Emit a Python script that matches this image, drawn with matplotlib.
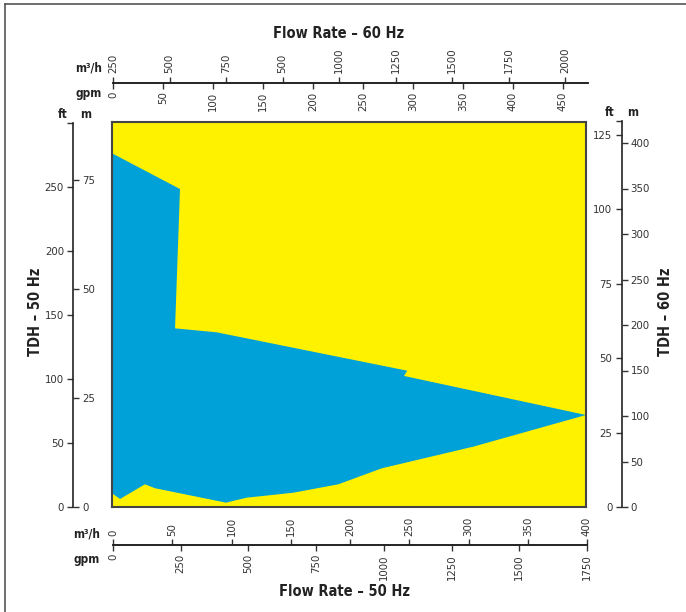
import matplotlib
matplotlib.use("Agg")
import matplotlib.pyplot as plt

# ---- data (flow in m3/h at 50 Hz, head in ft at 50 Hz) ----
region_flow = [0, 57.4, 53.2, 88.4, 249.2, 246.4, 400, 304.9, 227.6, 191.0,
               153.0, 113.7, 96.2, 36.3, 27.8, 6.8, 0]
region_head = [277.2, 249.2, 140.0, 136.9, 106.8, 102.7, 72.1, 47.3, 30.3, 17.8,
               11.2, 7.3, 3.4, 14.7, 17.8, 6.3, 10.7]

bottom_m3h_ticks = [0, 50, 100, 150, 200, 250, 300, 350, 400]
bottom_gpm_ticks = [0, 250, 500, 750, 1000, 1250, 1500, 1750]
top_gpm_ticks = [0, 50, 100, 150, 200, 250, 300, 350, 400, 450]
top_m3h_labels = ["250", "500", "750", "500", "1000", "1250", "1500", "1750", "2000"]
left_ft_ticks = [0, 50, 100, 150, 200, 250]
left_m_ticks = [0, 25, 50, 75]
right_ft_ticks = [0, 25, 50, 75, 100, 125]
right_m_ticks = [0, 50, 100, 150, 200, 250, 300, 350, 400]

YELLOW = "#fff200"
BLUE = "#00a1d9"
DARK = "#333333"

plt.rcParams['font.family'] = ['DejaVu Sans']
plt.rcParams['font.stretch'] = 'condensed'

W, H = 686, 612
fig = plt.figure(figsize=(W / 100, H / 100), dpi=100)


def fx(px):
    return px / W


def fy(py):
    return 1 - py / H


# main plot
ax = fig.add_axes([fx(112), fy(507), fx(474), 385 / H])
ax.set_facecolor(YELLOW)
ax.fill(region_flow, region_head, color=BLUE, lw=0)
ax.set_xlim(0, 400)
ax.set_ylim(0, 385 / 1.276)
ax.set_xticks([])
ax.set_yticks([])
for s in ax.spines.values():
    s.set_color("#444444")
    s.set_linewidth(1.5)

tick_kw = dict(colors=DARK, labelsize=8.2, length=4.5, width=1)


def hscale(y_px, x0, w_px, lim, side):
    a = fig.add_axes([fx(x0), fy(y_px), fx(w_px), 0])
    a.set_facecolor("none")
    for k in ("left", "right", "top"):
        a.spines[k].set_visible(False)
    a.spines["bottom"].set_linewidth(1.2)
    a.spines["bottom"].set_color("#222222")
    a.set_yticks([])
    a.set_xlim(*lim)
    a.xaxis.set_ticks_position(side)
    a.xaxis.set_label_position(side)
    a.tick_params(axis="x", direction="out", rotation=90, pad=2, **tick_kw)
    return a


def vscale(x_px, y_top, lim, side, show_spine):
    a = fig.add_axes([fx(x_px), fy(507), 0, (507 - y_top) / H])
    a.set_facecolor("none")
    for k in ("right", "top", "bottom"):
        a.spines[k].set_visible(False)
    a.spines["left"].set_visible(show_spine)
    a.spines["left"].set_linewidth(1.2)
    a.spines["left"].set_color("#222222")
    a.set_xticks([])
    a.set_ylim(*lim)
    a.yaxis.set_ticks_position(side)
    a.tick_params(axis="y", direction="out", pad=2, **tick_kw)
    return a


# bottom scales
b1 = hscale(545, 113, 474, (0, 400), "top")
b1.set_xticks(bottom_m3h_ticks)
b2 = hscale(545, 113, 474, (0, 1750), "bottom")
b2.set_xticks(bottom_gpm_ticks)

# top scales
t_gpm = hscale(82.5, 113, 475, (0, 475), "bottom")
t_gpm.set_xticks(top_gpm_ticks)
t_m3 = hscale(82.5, 113, 475, (0, 475), "top")
step = 56.5
t_m3.set_xticks([i * step for i in range(len(top_m3h_labels))])
t_m3.set_xticklabels(top_m3h_labels)

# left scales
l1 = vscale(73, 123, (0, 384 / 1.28), "left", True)
l1.set_yticks(left_ft_ticks + [384 / 1.28])
l1.set_yticklabels([str(v) for v in left_ft_ticks] + [""])
l2 = vscale(73, 123, (0, 384 / 4.36), "right", False)
l2.set_yticks(left_m_ticks)

# right scales
r1 = vscale(621.5, 121, (0, 386 / 2.976), "left", True)
r1.set_yticks(right_ft_ticks + [386 / 2.976])
r1.set_yticklabels([str(v) for v in right_ft_ticks] + [""])
r2 = vscale(621.5, 121, (0, 386 / 0.91), "right", False)
r2.set_yticks(right_m_ticks)

bold = dict(fontweight="bold", color="#222222")
fig.text(fx(339), fy(33), "Flow Rate – 60 Hz", ha="center", va="center", fontsize=10.5, **bold)
fig.text(fx(344), fy(592), "Flow Rate – 50 Hz", ha="center", va="center", fontsize=10.5, **bold)
fig.text(fx(89), fy(68), "m³/h", ha="center", va="center", fontsize=8.5, **bold)
fig.text(fx(89), fy(94), "gpm", ha="center", va="center", fontsize=8.5, **bold)
fig.text(fx(87), fy(534), "m³/h", ha="center", va="center", fontsize=8.5, **bold)
fig.text(fx(87), fy(559), "gpm", ha="center", va="center", fontsize=8.5, **bold)
fig.text(fx(36), fy(312), "TDH – 50 Hz", ha="center", va="center", rotation=90, fontsize=10.5, **bold)
fig.text(fx(665), fy(312), "TDH – 60 Hz", ha="center", va="center", rotation=90, fontsize=10.5, **bold)
fig.text(fx(63), fy(115), "ft", ha="center", va="center", fontsize=8.5, **bold)
fig.text(fx(86), fy(115), "m", ha="center", va="center", fontsize=8.5, **bold)
fig.text(fx(610), fy(112), "ft", ha="center", va="center", fontsize=8.5, **bold)
fig.text(fx(633), fy(112), "m", ha="center", va="center", fontsize=8.5, **bold)

# figure frame (left and top edges)
fig.add_artist(plt.Line2D([fx(5), fx(5)], [fy(4), 0], color="#555555", lw=1.2))
fig.add_artist(plt.Line2D([fx(5), 1], [fy(4), fy(4)], color="#555555", lw=1.2))

fig.savefig("out.png", dpi=100)
